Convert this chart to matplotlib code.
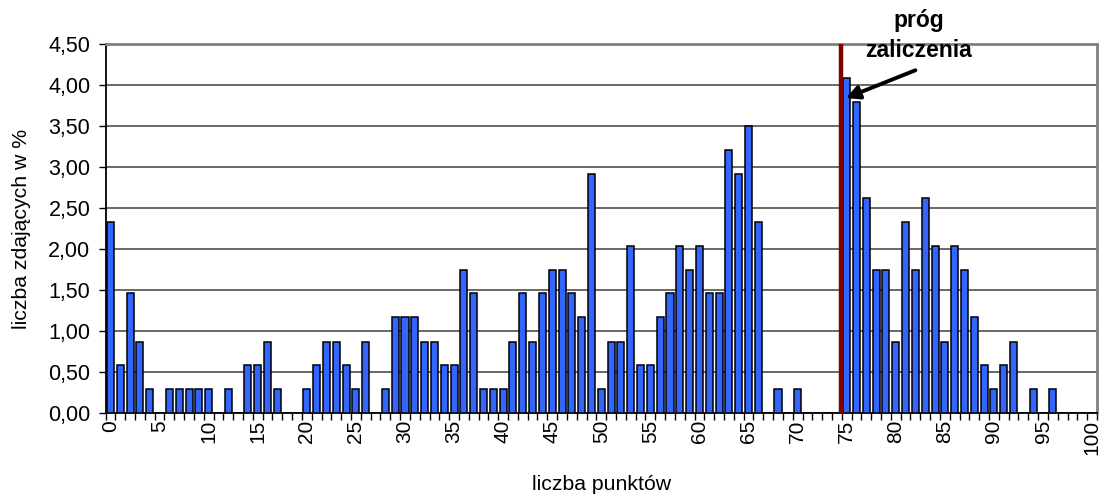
import matplotlib
matplotlib.use("Agg")
import matplotlib.pyplot as plt
import numpy as np
from matplotlib.ticker import FixedLocator, FuncFormatter

plt.rcParams['font.family'] = ['Liberation Sans', 'DejaVu Sans']

points = list(range(0, 101))
percent = [
    2.33, 0.58, 1.46, 0.87, 0.29, 0.00, 0.29, 0.29, 0.29, 0.29,   # 0-9
    0.29, 0.00, 0.29, 0.00, 0.58, 0.58, 0.87, 0.29, 0.00, 0.00,   # 10-19
    0.29, 0.58, 0.87, 0.87, 0.58, 0.29, 0.87, 0.00, 0.29, 1.17,   # 20-29
    1.17, 1.17, 0.87, 0.87, 0.58, 0.58, 1.75, 1.46, 0.29, 0.29,   # 30-39
    0.29, 0.87, 1.46, 0.87, 1.46, 1.75, 1.75, 1.46, 1.17, 2.92,   # 40-49
    0.29, 0.87, 0.87, 2.04, 0.58, 0.58, 1.17, 1.46, 2.04, 1.75,   # 50-59
    2.04, 1.46, 1.46, 3.21, 2.92, 3.50, 2.33, 0.00, 0.29, 0.00,   # 60-69
    0.29, 0.00, 0.00, 0.00, 0.00, 4.08, 3.79, 2.62, 1.75, 1.75,   # 70-79
    0.87, 2.33, 1.75, 2.62, 2.04, 0.87, 2.04, 1.75, 1.17, 0.58,   # 80-89
    0.29, 0.58, 0.87, 0.00, 0.29, 0.00, 0.29, 0.00, 0.00, 0.00,   # 90-99
    0.00,                                                         # 100
]
y_ticks = [0.0, 0.5, 1.0, 1.5, 2.0, 2.5, 3.0, 3.5, 4.0, 4.5]
x_tick_labels = list(range(0, 101, 5))
threshold = 74.45
annotation_text = "próg\nzaliczenia"
xlabel = "liczba punktów"
ylabel = "liczba zdających w %"

fig = plt.figure(figsize=(11.01, 4.99), dpi=100)
ax = fig.add_axes([105.6 / 1101, 1 - 413 / 499, (1097 - 105.6) / 1101, (413 - 44) / 499])

ax.bar(points, percent, width=0.72, color='#3366FF', edgecolor='black', linewidth=1.1, zorder=3)

ax.set_xlim(-0.5, 100.5)
ax.set_ylim(0, 4.5)

ax.yaxis.set_major_locator(FixedLocator(y_ticks))
ax.yaxis.set_major_formatter(FuncFormatter(lambda v, p: f"{v:.2f}".replace('.', ',')))
ax.grid(axis='y', color='#404040', linewidth=1.1, zorder=1)

ax.set_xticks(x_tick_labels)
ax.set_xticklabels([str(v) for v in x_tick_labels], rotation=90)
ax.set_xticks(np.arange(-0.5, 101, 1.0), minor=True)
ax.tick_params(axis='x', which='major', length=0, pad=5, labelsize=15)
ax.tick_params(axis='x', which='minor', length=5, width=1, direction='out', color='black')
ax.tick_params(axis='y', which='major', length=5, width=1, direction='out', labelsize=15.5, pad=6)

for s in ['left', 'bottom']:
    ax.spines[s].set_color('black')
    ax.spines[s].set_linewidth(1.3)
for s in ['top', 'right']:
    ax.spines[s].set_color('#808080')
    ax.spines[s].set_linewidth(2)

ax.axvline(threshold, color='#800000', linewidth=3.2, zorder=4)

ax.text(82.3, 4.6, annotation_text, ha='center', va='center', fontsize=16.5,
        fontweight='bold', linespacing=1.4, clip_on=False, zorder=5)
ax.annotate('', xy=(74.9, 3.84), xytext=(82.0, 4.18), annotation_clip=False,
            arrowprops=dict(arrowstyle='-|>', color='black', lw=2.8,
                            mutation_scale=20, shrinkA=0, shrinkB=0),
            zorder=5)

ax.set_xlabel(xlabel, fontsize=15.3, labelpad=14)
ax.set_ylabel(ylabel, fontsize=15.3, labelpad=12)

fig.savefig('out.png', dpi=100)
